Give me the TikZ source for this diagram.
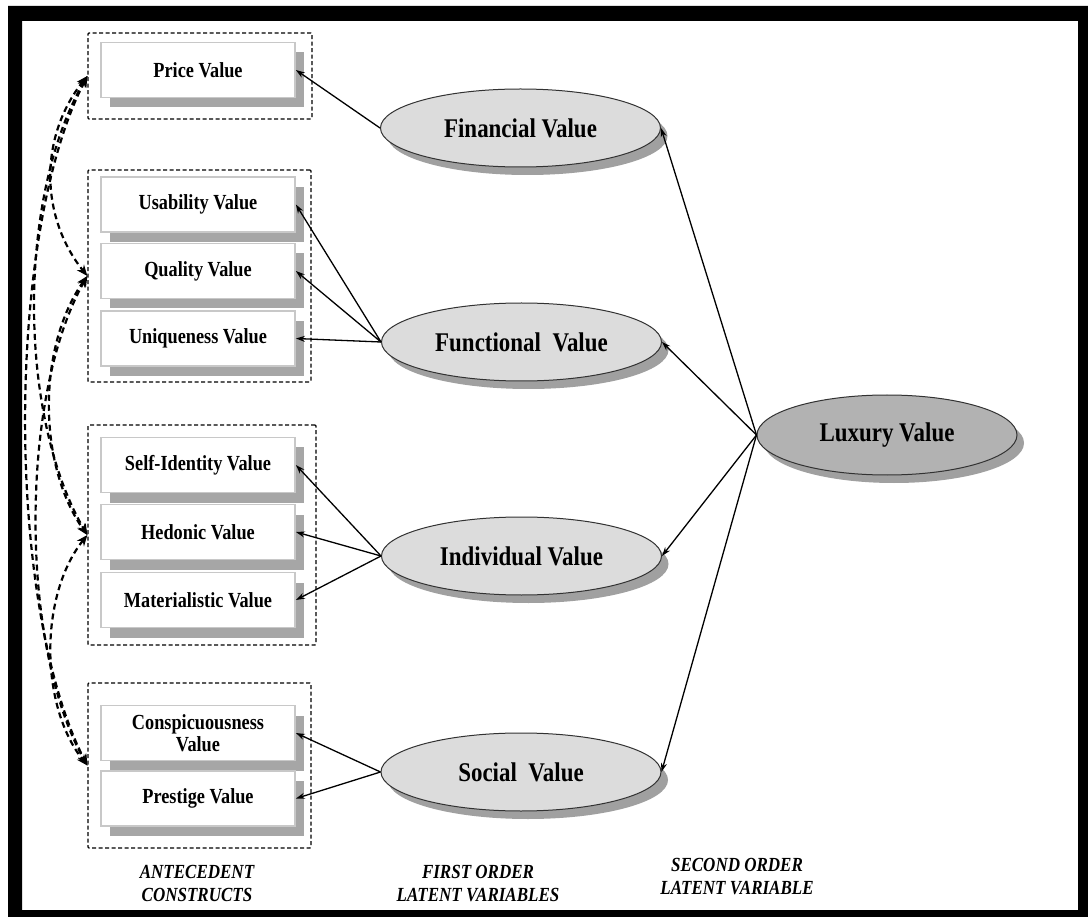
\documentclass[tikz,border=0pt]{standalone}
\usepackage{fontspec}
\setmainfont{Liberation Serif}[FakeStretch=0.85]
\usetikzlibrary{shapes.geometric,shadows,arrows.meta}
\definecolor{boxline}{RGB}{200,200,200}
\definecolor{boxshadow}{RGB}{166,166,166}
\definecolor{latfill}{RGB}{220,220,220}
\definecolor{luxfill}{RGB}{178,178,178}
\definecolor{ellshadow}{RGB}{160,160,160}
\definecolor{ellline}{RGB}{50,50,50}
\begin{document}
\begin{tikzpicture}[x=1pt,y=-1pt,
  item/.style={draw=boxline, line width=1.8, fill=white, minimum width=194,
    minimum height=55, inner sep=2, align=center,
    font=\fontsize{21.5}{22}\selectfont\bfseries,
    drop shadow={shadow xshift=9pt, shadow yshift=-10pt, fill=boxshadow, opacity=1}},
  group/.style={draw, line width=1.3, dash pattern=on 4pt off 2.5pt, inner sep=0,
    rounded corners=1},
  latent/.style={ellipse, draw=ellline, line width=1, fill=latfill,
    minimum width=280, minimum height=78, inner sep=0,
    font=\fontsize{27}{28}\selectfont\bfseries,
    drop shadow={shadow xshift=7pt, shadow yshift=-8pt, fill=ellshadow, opacity=1}},
  arr/.style={-{Stealth[length=9pt,width=6pt]}, line width=1.3},
  cor/.style={{Stealth[length=11pt,width=9pt]}-{Stealth[length=11pt,width=9pt]},
    line width=2.2, dash pattern=on 6pt off 4pt},
  foot/.style={font=\fontsize{20}{23}\selectfont\bfseries\itshape, align=center}
]
\useasboundingbox (0,0) rectangle (1088,917);
\fill[white] (0,0) rectangle (1088,917);
% black frame
\fill[black,even odd rule] (8,6) rectangle (1088,917) (22,21) rectangle (1078,910);

% dashed groups of antecedent constructs
\node[group, minimum width=224, minimum height=86]  (gP) at (200,76) {};
\node[group, minimum width=223, minimum height=212] (gF) at (199.5,276) {};
\node[group, minimum width=228, minimum height=220] (gI) at (202,535) {};
\node[group, minimum width=223, minimum height=165] (gS) at (199.5,765.5) {};

% antecedent constructs
\node[item] (price) at (198,70)    {Price Value};
\node[item] (usab)  at (198,204.5) {Usability Value};
\node[item] (qual)  at (198,271)   {Quality Value};
\node[item] (uniq)  at (198,338.5) {Uniqueness Value};
\node[item] (self)  at (198,465)   {Self-Identity Value};
\node[item] (hed)   at (198,532)   {Hedonic Value};
\node[item] (mat)   at (198,600)   {Materialistic Value};
\node[item] (consp) at (198,733)   {Conspicuousness\\Value};
\node[item] (prest) at (198,798.5) {Prestige Value};

% first order latent variables
\node[latent] (fin) at (520.5,128) {Financial Value};
\node[latent] (fun) at (521.5,342) {Functional\ \ Value};
\node[latent] (ind) at (521.5,556) {Individual Value};
\node[latent] (soc) at (521,772)   {Social\ \ Value};

% second order latent variable
\node[latent, fill=luxfill, minimum width=260, minimum height=80] (lux) at (887,435) {Luxury Value};

% loadings
\draw[arr] (fin.west) -- (price.east);
\draw[arr] (fun.west) -- (usab.east);
\draw[arr] (fun.west) -- (qual.east);
\draw[arr] (fun.west) -- (uniq.east);
\draw[arr] (ind.west) -- (self.east);
\draw[arr] (ind.west) -- (hed.east);
\draw[arr] (ind.west) -- (mat.east);
\draw[arr] (soc.west) -- (consp.east);
\draw[arr] (soc.west) -- (prest.east);
\draw[arr] (lux.west) -- (fin.east);
\draw[arr] (lux.west) -- (fun.east);
\draw[arr] (lux.west) -- (ind.east);
\draw[arr] (lux.west) -- (soc.east);

% correlations between antecedent groups
\draw[cor] (gP.west) .. controls +(-48,60) and +(-48,-60) .. (gF.west);
\draw[cor] (gF.west) .. controls +(-50,70) and +(-50,-70) .. (gI.west);
\draw[cor] (gI.west) .. controls +(-48,60) and +(-48,-60) .. (gS.west);
\draw[cor] (gP.west) .. controls +(-70,120) and +(-70,-120) .. (gI.west);
\draw[cor] (gF.west) .. controls +(-68,120) and +(-68,-120) .. (gS.west);
\draw[cor] (gP.west) .. controls +(-82,160) and +(-82,-160) .. (gS.west);

% column captions
\node[foot] (capA) at (197,883) {ANTECEDENT\\CONSTRUCTS};
\node[foot] (capB) at (478,884) {FIRST ORDER\\LATENT VARIABLES};
\node[foot] (capC) at (737,877) {SECOND ORDER\\LATENT VARIABLE};
\end{tikzpicture}
\end{document}
